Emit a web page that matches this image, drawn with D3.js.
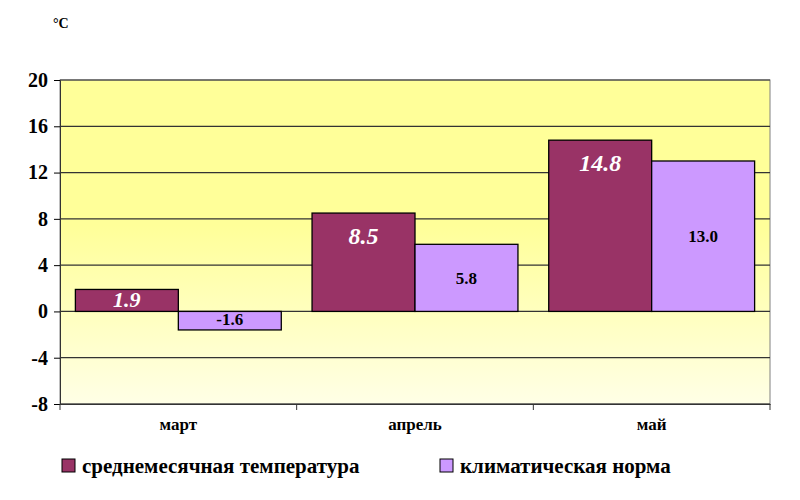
<!DOCTYPE html><html><head><meta charset="utf-8"><script src="https://cdn.jsdelivr.net/npm/d3@7"></script>
<style>body{margin:0;background:#fff}svg text{font-family:"Liberation Serif","Times New Roman",serif !important;font-weight:bold}</style></head><body><svg id="c" width="800" height="500"></svg>
<script>
const categories=["март","апрель","май"];
const seriesNames=["среднемесячная температура","климатическая норма"];
const avgTemp=[1.9,8.5,14.8];
const norm=[-1.6,5.8,13.0];
const yTicks=[-8,-4,0,4,8,12,16,20];
const colors=["#993366","#CC99FF"];
const svg=d3.select("#c");
const L=60,R=770,T=80,B=404;
const x=d3.scaleBand().domain(categories).range([L,R]);
const y=d3.scaleLinear().domain([-8,20]).range([B,T]);
const defs=svg.append("defs");
const g=defs.append("linearGradient").attr("id","bg").attr("x1",0).attr("y1",0).attr("x2",0).attr("y2",1);
g.append("stop").attr("offset","0").attr("stop-color","#FFFF99");
g.append("stop").attr("offset","0.45").attr("stop-color","#FFFF99");
g.append("stop").attr("offset","1").attr("stop-color","#FFFFE6");
svg.append("rect").attr("x",L).attr("y",T).attr("width",R-L).attr("height",B-T).attr("fill","url(#bg)").attr("stroke","#808080");
svg.append("g").selectAll("line").data(yTicks).join("line").attr("x1",L).attr("x2",R).attr("y1",d=>y(d)).attr("y2",d=>y(d)).attr("stroke","#333").attr("stroke-width",1.2);
const ya=svg.append("g").attr("transform",`translate(${L},0)`).call(d3.axisLeft(y).tickValues(yTicks).tickFormat(d=>String(d)).tickSize(6).tickPadding(6));
ya.selectAll("text").attr("font-size",20).attr("fill","#000");
ya.select(".domain").attr("stroke","#333");
const xa=svg.append("g").attr("transform",`translate(0,${B})`).call(d3.axisBottom(x).tickSize(0).tickPadding(14));
xa.selectAll(".tick line").remove();
xa.selectAll("text").attr("font-size",17).attr("fill","#000");
xa.select(".domain").attr("stroke","#333");
svg.append("g").selectAll("line").data([L,...categories.map(c=>x(c)+x.bandwidth()),]).join("line").attr("x1",d=>d).attr("x2",d=>d).attr("y1",B).attr("y2",B+6).attr("stroke","#333");
const bw=x.bandwidth()*0.87/2, off=x.bandwidth()*0.065;
[avgTemp,norm].forEach((vals,s)=>{
  svg.append("g").selectAll("rect").data(vals).join("rect")
   .attr("x",(d,i)=>x(categories[i])+off+s*bw).attr("width",bw)
   .attr("y",d=>y(Math.max(0,d))).attr("height",d=>Math.abs(y(d)-y(0)))
   .attr("fill",colors[s]).attr("stroke","#000").attr("stroke-width",1.3);
});
svg.append("g").selectAll("text").data(avgTemp).join("text")
 .attr("x",(d,i)=>x(categories[i])+off+bw/2).attr("y",d=>d>4?y(d)+31:y(d)+18)
 .attr("text-anchor","middle").attr("fill","#fff").attr("font-size",d=>d>4?24:22).attr("font-style","italic").text(d=>d.toFixed(1));
svg.append("g").selectAll("text").data(norm).join("text")
 .attr("x",(d,i)=>x(categories[i])+off+bw*1.5).attr("y",d=>d<0?y(0)+14:y(d/2)+6)
 .attr("text-anchor","middle").attr("fill","#000").attr("font-size",17).text(d=>d.toFixed(1));
svg.append("text").attr("x",53).attr("y",28).attr("font-size",14).text("°C");
const lg=svg.append("g");
[[62,seriesNames[0]],[440,seriesNames[1]]].forEach(([lx,t],i)=>{
 lg.append("rect").attr("x",lx).attr("y",459).attr("width",13).attr("height",13).attr("fill",colors[i]).attr("stroke","#000");
 lg.append("text").attr("x",lx+20).attr("y",473).attr("font-size",21).text(t);
});
</script></body></html>
